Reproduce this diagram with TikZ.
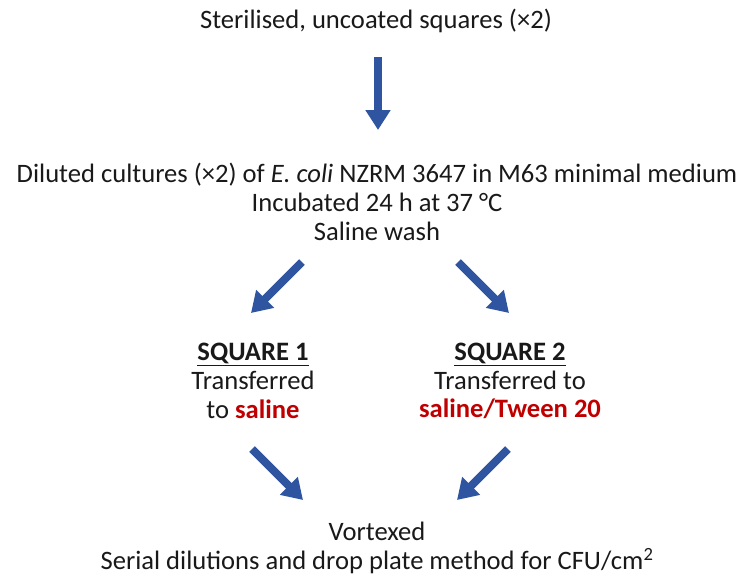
\documentclass[tikz,border=0pt]{standalone}
\usepackage{fontspec}
\setmainfont{Carlito}
\usetikzlibrary{arrows.meta}
\definecolor{flowblue}{RGB}{47,85,160}
\definecolor{flowred}{RGB}{192,0,0}
\tikzset{
  txt/.style={align=center, inner sep=0pt, font=\fontsize{26.6}{28.8}\selectfont, text=black!90},
  bigarrow/.style={draw=flowblue, line width=8pt,
    -{Triangle[length=20pt,width=24pt]}},
}
\begin{document}
\begin{tikzpicture}[x=1pt,y=-1pt]
\useasboundingbox (0,0) rectangle (753,582);

% text blocks
\node[txt] (start) at (376,21) {Sterilised, uncoated squares (×2)};
\node[txt] (culture) at (377,202) {Diluted cultures (×2) of \textit{E. coli} NZRM 3647 in M63 minimal medium\\
  Incubated 24 h at 37 °C\\ Saline wash};
\node[txt] (sqone) at (253,381) {\textbf{\underline{SQUARE 1}}\\ Transferred\\ to \textcolor{flowred}{\textbf{saline}}};
\node[txt] (sqtwo) at (510,381) {\textbf{\underline{SQUARE 2}}\\ Transferred to\\ \textcolor{flowred}{\textbf{saline/Tween 20}}};
\node[txt] (final) at (377,548) {Vortexed\\ Serial dilutions and drop plate method for CFU/cm\textsuperscript{2}};

% arrow end points
\coordinate (d0) at (378,57);   \coordinate (d1) at (378,130);
\coordinate (l0) at (302,262);  \coordinate (l1) at (251,313);
\coordinate (r0) at (458,262);  \coordinate (r1) at (509,313);
\coordinate (p0) at (252,449);  \coordinate (p1) at (303,500);
\coordinate (q0) at (508,449);  \coordinate (q1) at (457,500);

\draw[bigarrow] (d0) -- (d1);
\draw[bigarrow] (l0) -- (l1);
\draw[bigarrow] (r0) -- (r1);
\draw[bigarrow] (p0) -- (p1);
\draw[bigarrow] (q0) -- (q1);
\end{tikzpicture}
\end{document}
